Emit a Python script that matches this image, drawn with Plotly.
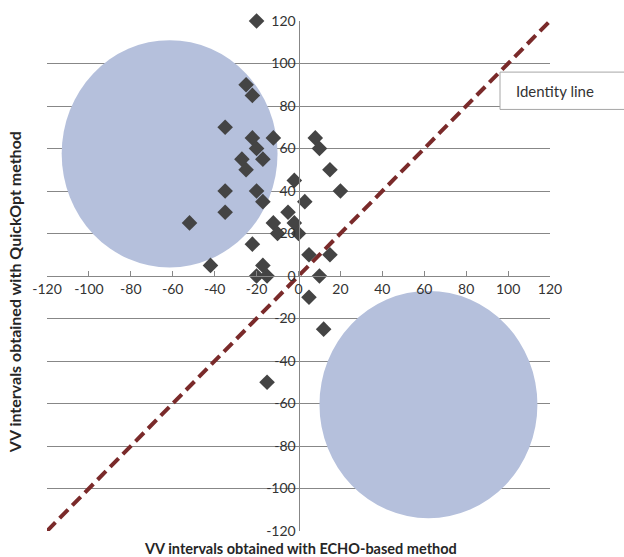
import plotly.graph_objects as go

# ---- data ----
echo_vv = [-20, -25, -22, -35, -22, -12, -20, -27, -17, -25,
           8, 10, 15, -2, 20, -35, -20, -52, -35, -17,
           -12, -5, -2, 3, 0, -10, -22, -42, -17, -20,
           -15, 5, 15, 10, 5, 12, -15]
quickopt_vv = [120, 90, 85, 70, 65, 65, 60, 55, 55, 50,
               65, 60, 50, 45, 40, 40, 40, 25, 30, 35,
               25, 30, 25, 35, 20, 20, 15, 5, 5, 0,
               0, 10, 10, 0, -10, -25, -50]
identity_x = [-120, 120]
identity_y = [-120, 120]
tick_vals = [-120, -100, -80, -60, -40, -20, 0, 20, 40, 60, 80, 100, 120]
tick_text = [str(v) for v in tick_vals]
# highlighted regions (x0, x1, y0, y1) in data units
region_upper_left = [-113, -10, 4, 111]
region_lower_right = [10, 114, -114, -7]

FONT = "Lato"
GRID = "#878787"

fig = go.Figure()

fig.add_trace(go.Scatter(
    x=identity_x, y=identity_y, mode="lines",
    line=dict(color="#7a2a2a", width=4, dash="12px,6px"),
    hoverinfo="skip", showlegend=False, cliponaxis=True))

fig.add_trace(go.Scatter(
    x=echo_vv, y=quickopt_vv, mode="markers",
    marker=dict(symbol="diamond", size=12, color="#444444"),
    showlegend=False, cliponaxis=False))

shapes = []
for r in (region_upper_left, region_lower_right):
    shapes.append(dict(type="circle", xref="x", yref="y",
                       x0=r[0], x1=r[1], y0=r[2], y1=r[3],
                       fillcolor="#b5c0dc", line=dict(width=0),
                       layer="between"))
# identity-line label box
shapes.append(dict(type="rect", xref="paper", yref="paper",
                   x0=0.9006, x1=1.26, y0=0.8266, y1=0.8998,
                   fillcolor="white", line=dict(color="#a6a6a6", width=1),
                   layer="above"))

annotations = [
    dict(text="Identity line", xref="paper", yref="paper",
         x=0.928, y=0.863, xanchor="left", yanchor="middle",
         showarrow=False, font=dict(family=FONT, size=15, color="#333333")),
    dict(text="<b>VV intervals obtained with ECHO-based method</b>",
         xref="paper", yref="paper", x=0.503, y=0.0,
         yshift=-17,
         xanchor="center", yanchor="middle", showarrow=False,
         font=dict(family=FONT, size=14.5, color="#262626")),
    dict(text="<b>VV intervals obtained with QuickOpt method</b>",
         xref="paper", yref="paper", x=-0.064, y=0.468,
         xanchor="center", yanchor="middle", textangle=-90, showarrow=False,
         font=dict(family=FONT, size=16, color="#262626")),
]

axis_font = dict(family=FONT, size=14, color="#333333")

fig.update_layout(
    width=624, height=557,
    margin=dict(l=47, r=74, t=18, b=26),
    paper_bgcolor="white", plot_bgcolor="white",
    shapes=shapes, annotations=annotations,
    xaxis=dict(range=[-120, 120], anchor="free", position=0.5,
               tickvals=tick_vals, ticktext=tick_text,
               showgrid=False, zeroline=False,
               showline=True, linecolor=GRID, linewidth=1,
               ticks="inside", ticklen=5, tickcolor=GRID,
               tickfont=axis_font, fixedrange=True),
    yaxis=dict(range=[-120, 120], anchor="free", position=0.5,
               tickvals=tick_vals, ticktext=tick_text,
               showgrid=True, gridcolor=GRID, gridwidth=1, zeroline=False,
               showline=True, linecolor=GRID, linewidth=1,
               ticks="", tickfont=axis_font, fixedrange=True),
)

fig.write_html("out.html")
